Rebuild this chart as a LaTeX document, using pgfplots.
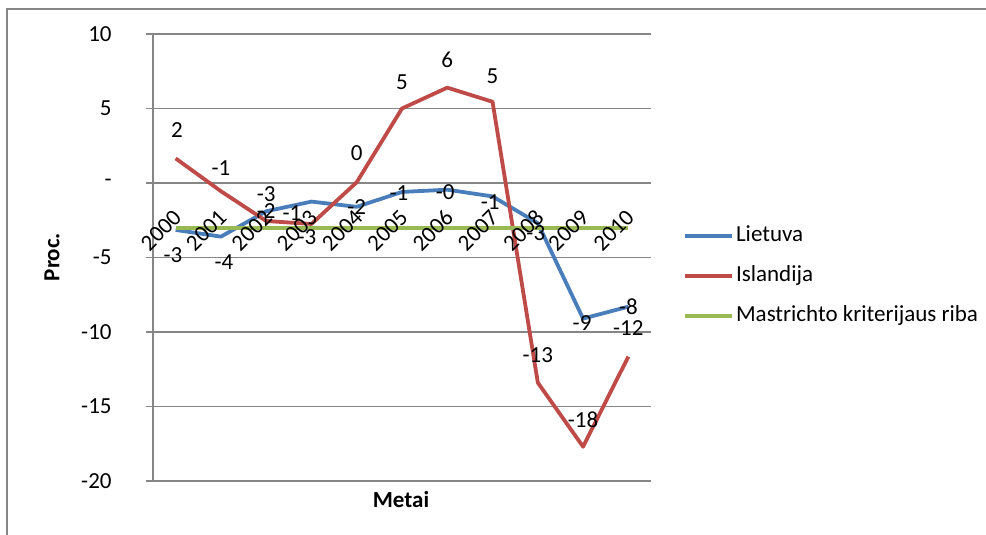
\documentclass[border=0pt]{standalone}
\usepackage{pgfplots}
\pgfplotsset{compat=1.18}
\usepackage{fontspec}
\setmainfont{Carlito}

\definecolor{lietblue}{HTML}{4A7EBB}
\definecolor{islred}{HTML}{BE4B48}
\definecolor{mastgreen}{HTML}{98B954}
\definecolor{gridgray}{HTML}{868686}

% Budget balance, per cent of GDP
\pgfplotstableread{
x  year  lt     is
0  2000  -3.15   1.65
1  2001  -3.60  -0.55
2  2002  -1.90  -2.55
3  2003  -1.25  -2.75
4  2004  -1.60   0.05
5  2005  -0.60   5.00
6  2006  -0.45   6.40
7  2007  -0.90   5.45
8  2008  -2.70  -13.40
9  2009  -9.10  -17.70
10 2010  -8.30  -11.65
}\deficit

\newcommand{\chartfont}{\fontsize{11.5}{13.5}\selectfont}

\begin{document}
\begin{tikzpicture}[font=\chartfont]
\path[use as bounding box] (0,0) rectangle (493pt,267.5pt);
% outer chart frame
\draw[gridgray, line width=1.1pt] (3.5pt,-2pt) -- (3.5pt,263pt) -- (496pt,263pt);

\begin{axis}[
  at={(76.5pt,27pt)}, anchor=south west,
  scale only axis, width=249pt, height=223.5pt,
  xmin=-0.5, xmax=10.5, ymin=-20, ymax=10,
  clip=false,
  axis lines*=left,
  axis line style={gridgray, line width=0.9pt},
  xtick=\empty,
  ytick={-20,-15,-10,-5,0,5,10},
  yticklabels={-20,-15,-10,-5,-,5,10},
  tick align=outside, major tick length=3.5pt,
  ytick style={gridgray, line width=0.6pt},
  yticklabel style={anchor=east, inner sep=0pt, xshift=-17pt},
  ymajorgrids, grid style={gridgray, line width=0.6pt},
  legend style={at={(axis description cs:1.064,0.4586)}, anchor=west,
    draw=none, fill=none, inner sep=0pt,
    nodes={inner sep=1pt, text height=8pt, text depth=2.5pt},
    row sep=7.5pt, font=\chartfont},
  legend cell align=left,
  legend image code/.code={\draw[#1] (0pt,0pt) -- (23.5pt,0pt);},
]
\addplot[lietblue, line width=1.9pt, line join=round] table[x=x, y=lt] {\deficit};
\addlegendentry{Lietuva}
\addplot[islred, line width=1.9pt, line join=round] table[x=x, y=is] {\deficit};
\addlegendentry{Islandija}
\addplot[mastgreen, line width=1.9pt] coordinates {(0,-3) (10,-3)};
\addlegendentry{Mastrichto kriterijaus riba}

% year labels along the category axis
\node[rotate=45, anchor=east, inner sep=0pt, xshift=1.5pt] at (axis cs:0,-2.2) {2000};
\node[rotate=45, anchor=east, inner sep=0pt, xshift=1.5pt] at (axis cs:1,-2.2) {2001};
\node[rotate=45, anchor=east, inner sep=0pt, xshift=1.5pt] at (axis cs:2,-2.2) {2002};
\node[rotate=45, anchor=east, inner sep=0pt, xshift=1.5pt] at (axis cs:3,-2.2) {2003};
\node[rotate=45, anchor=east, inner sep=0pt, xshift=1.5pt] at (axis cs:4,-2.2) {2004};
\node[rotate=45, anchor=east, inner sep=0pt, xshift=1.5pt] at (axis cs:5,-2.2) {2005};
\node[rotate=45, anchor=east, inner sep=0pt, xshift=1.5pt] at (axis cs:6,-2.2) {2006};
\node[rotate=45, anchor=east, inner sep=0pt, xshift=1.5pt] at (axis cs:7,-2.2) {2007};
\node[rotate=45, anchor=east, inner sep=0pt, xshift=1.5pt] at (axis cs:8,-2.2) {2008};
\node[rotate=45, anchor=east, inner sep=0pt, xshift=1.5pt] at (axis cs:9,-2.2) {2009};
\node[rotate=45, anchor=east, inner sep=0pt, xshift=1.5pt] at (axis cs:10,-2.2) {2010};

% value labels, Lietuva
\node[inner sep=0pt, xshift=-1.3pt, yshift=-12.5pt] at (axis cs:0,-3.15) {-3};
\node[inner sep=0pt, xshift=1.5pt, yshift=-12.7pt] at (axis cs:1,-3.60) {-4};
\node[inner sep=0pt] at (axis cs:2,-1.90) {-2};
\node[inner sep=0pt, xshift=-9.7pt, yshift=-5.7pt] at (axis cs:3,-1.25) {-1};
\node[inner sep=0pt] at (axis cs:4,-1.60) {-2};
\node[inner sep=0pt, xshift=-1.5pt, yshift=-0.5pt] at (axis cs:5,-0.60) {-1};
\node[inner sep=0pt, xshift=-1pt, yshift=-1pt] at (axis cs:6,-0.45) {-0};
\node[inner sep=0pt, xshift=-1.2pt, yshift=-2.8pt] at (axis cs:7,-0.90) {-1};
\node[inner sep=0pt, xshift=-1pt, yshift=-5pt] at (axis cs:8,-2.70) {-3};
\node[inner sep=0pt, xshift=-0.5pt, yshift=-2.2pt] at (axis cs:9,-9.10) {-9};
\node[inner sep=0pt] at (axis cs:10,-8.30) {-8};

% value labels, Islandija
\node[inner sep=0pt, xshift=0.7pt, yshift=14.2pt] at (axis cs:0,1.65) {2};
\node[inner sep=0pt, yshift=11.5pt] at (axis cs:1,-0.55) {-1};
\node[inner sep=0pt, yshift=13.2pt] at (axis cs:2,-2.55) {-3};
\node[inner sep=0pt, xshift=-2.2pt, yshift=-6.5pt] at (axis cs:3,-2.75) {-3};
\node[inner sep=0pt, yshift=14.7pt] at (axis cs:4,0.05) {0};
\node[inner sep=0pt, yshift=13.2pt] at (axis cs:5,5.00) {5};
\node[inner sep=0pt, yshift=13.8pt] at (axis cs:6,6.40) {6};
\node[inner sep=0pt, yshift=13pt] at (axis cs:7,5.45) {5};
\node[inner sep=0pt, yshift=14pt] at (axis cs:8,-13.40) {-13};
\node[inner sep=0pt, yshift=13.4pt] at (axis cs:9,-17.70) {-18};
\node[inner sep=0pt, yshift=14.3pt] at (axis cs:10,-11.65) {-12};
\end{axis}

% axis titles
\node[rotate=90, font=\chartfont\bfseries] at (26pt,139pt) {Proc.};
\node[font=\chartfont\bfseries] at (200.5pt,17.5pt) {Metai};
\end{tikzpicture}
\end{document}
